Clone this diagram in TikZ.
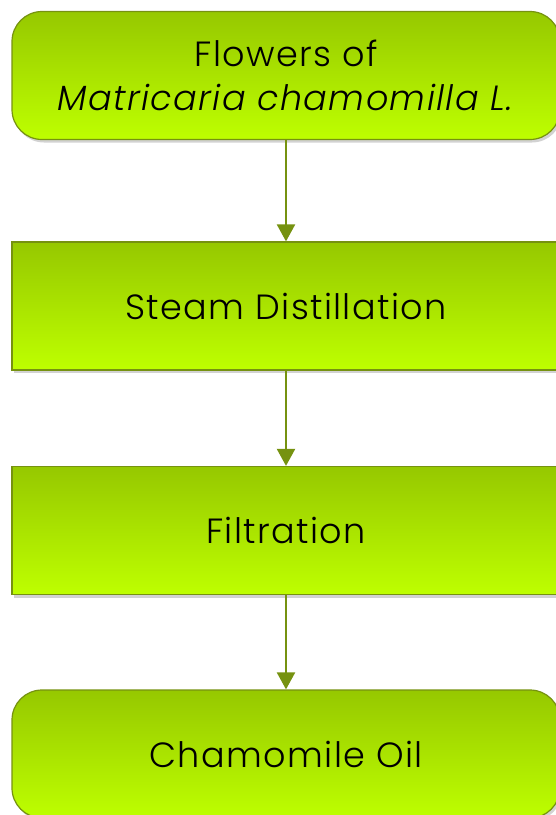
\documentclass[tikz,border=0pt]{standalone}
\usepackage{fontspec}
\setmainfont{Poppins}[UprightFont=* Light, ItalicFont=* Light Italic, LetterSpace=4]
\usepackage{tikz}
\usetikzlibrary{arrows.meta,shadows}

\definecolor{boxtop}{RGB}{150,200,0}
\definecolor{boxbot}{RGB}{190,255,0}
\definecolor{boxline}{RGB}{118,146,16}

\begin{document}
\begin{tikzpicture}[x=1pt,y=-1pt,
    box/.style={draw=boxline,line width=1.2pt,top color=boxtop,bottom color=boxbot,
        minimum width=548pt,minimum height=128pt,align=center,inner sep=0pt,
        font=\fontsize{35}{44}\selectfont,
        drop shadow={shadow xshift=2pt,shadow yshift=-3pt,fill=black!35,opacity=0.5}},
    endbox/.style={box,rounded corners=30pt},
    flow/.style={-{Triangle[length=17pt,width=18pt]},line width=2.2pt,boxline}]
\useasboundingbox (0,0) rectangle (556,815);

% Process steps
\node[endbox] (flowers) at (286,75.5) {Flowers of\\\textit{Matricaria chamomilla L.}};
\node[box] (steam) at (286,306) {Steam Distillation};
\node[box] (filter) at (286,530.5) {Filtration};
\node[endbox] (oil) at (286,754) {Chamomile Oil};

% Arrows
\foreach \a/\b in {flowers/steam,steam/filter,filter/oil}
    \draw[flow] (\a) -- (\b);
\end{tikzpicture}
\end{document}
